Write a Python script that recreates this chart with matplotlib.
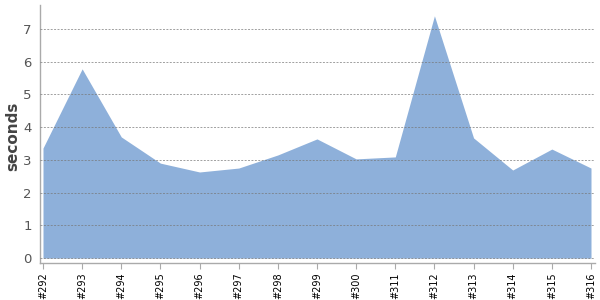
import matplotlib
matplotlib.use("Agg")
import matplotlib.pyplot as plt
import numpy as np

# build numbers and durations
builds = ["#292", "#293", "#294", "#295", "#296", "#297", "#298", "#299",
          "#300", "#311", "#312", "#313", "#314", "#315", "#316"]
seconds = [3.36, 5.78, 3.70, 2.90, 2.63, 2.75, 3.15, 3.64,
           3.03, 3.09, 7.40, 3.67, 2.69, 3.33, 2.75]

FILL = "#8eb0da"
GRAY = "#aaaaaa"

fig = plt.figure(figsize=(6, 3), dpi=100)
ax = fig.add_axes([40 / 600, 37 / 300, 555 / 600, 258 / 300])

x = np.arange(len(builds))
ax.fill_between(x, 0, seconds, color=FILL, linewidth=0, zorder=1)

px = 548 / (len(builds) - 1)
ax.set_xlim(-3 / px, len(builds) - 1 + 4 / px)
ax.set_ylim(-0.15, 7.73)

ax.set_yticks(range(0, 8))
ax.yaxis.grid(True, color="#777777", linestyle=(0, (2, 1.5)), linewidth=0.7,
              alpha=0.7, zorder=2)
ax.set_axisbelow(False)

ax.set_xticks(x)
ax.set_xticklabels(builds, rotation=90, fontsize=7, color="black")
ax.tick_params(axis="x", length=4, color=GRAY, pad=3)
ax.tick_params(axis="y", length=0, pad=6, labelsize=9.5, labelcolor="#555555")

for s in ("top", "right"):
    ax.spines[s].set_visible(False)
for s in ("left", "bottom"):
    ax.spines[s].set_color(GRAY)
    ax.spines[s].set_linewidth(1)

ax.set_ylabel("seconds", fontsize=11, fontweight="bold", color="#444444")
ax.yaxis.set_label_coords(-0.036, 0.49)

fig.savefig("out.png", dpi=100)
